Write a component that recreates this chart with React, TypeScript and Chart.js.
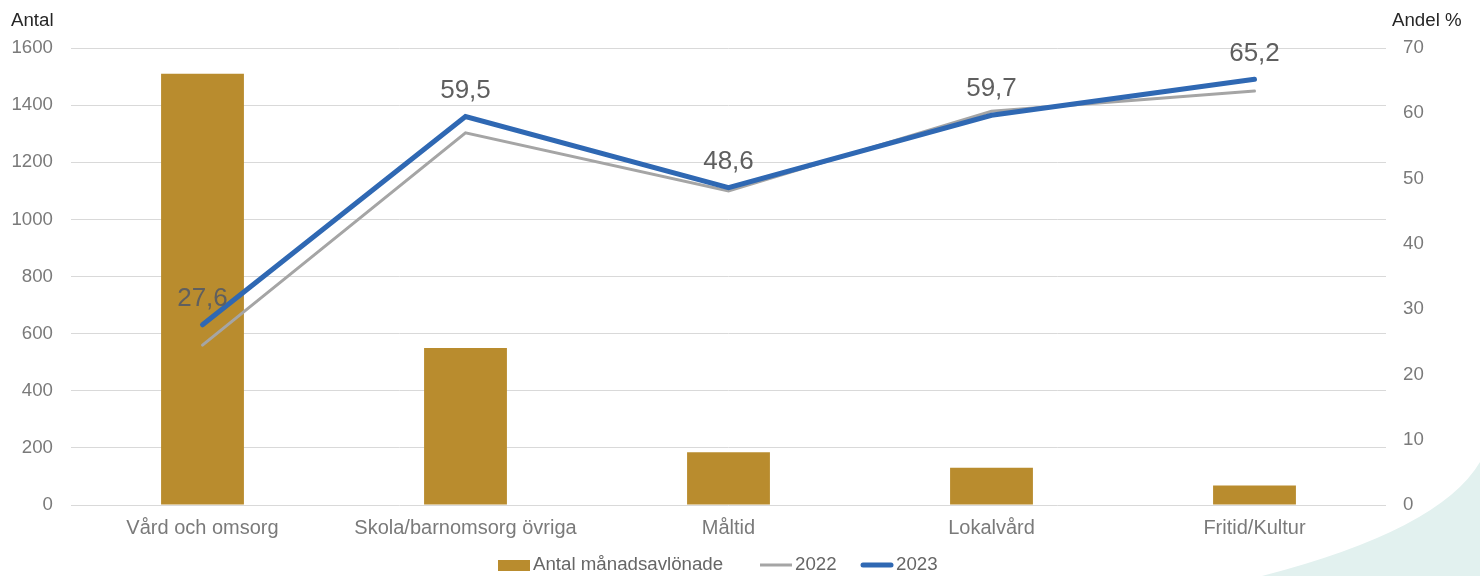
import React, { useEffect, useRef } from "react";
import { Chart, registerables } from "chart.js";

Chart.register(...registerables);

const categories = ["Vård och omsorg", "Skola/barnomsorg övriga", "Måltid", "Lokalvård", "Fritid/Kultur"];
const antal = [1510, 550, 185, 130, 68];
const andel2022 = [24.5, 57.0, 48.1, 60.3, 63.4];
const andel2023 = [27.6, 59.5, 48.6, 59.7, 65.2];
const leftTicks = [0, 200, 400, 600, 800, 1000, 1200, 1400, 1600];
const rightTicks = [0, 10, 20, 30, 40, 50, 60, 70];

const FONT = "'Liberation Sans', Arial, sans-serif";
const GOLD = "#B98C2E";
const GRAY = "#A5A5A5";
const BLUE = "#2F68B3";
const TICK = "#7A7A7A";
const LEGEND = "#666666";

const decorPlugin = {
  id: "decor",
  beforeDraw(chart: any) {
    const ctx = chart.ctx;
    ctx.save();
    ctx.fillStyle = "#E2F1EF";
    ctx.beginPath();
    ctx.moveTo(1262, 576);
    ctx.quadraticCurveTo(1440, 530, 1480, 462);
    ctx.lineTo(1480, 576);
    ctx.closePath();
    ctx.fill();
    ctx.restore();
  },
  afterDraw(chart: any) {
    const ctx = chart.ctx;
    ctx.save();
    // axis titles
    ctx.font = `18.7px ${FONT}`;
    ctx.fillStyle = "#262626";
    ctx.textBaseline = "middle";
    ctx.textAlign = "left";
    ctx.fillText("Antal", 11, 21);
    ctx.fillText("Andel %", 1392, 21);

    // data labels for 2023
    const meta = chart.getDatasetMeta(2);
    ctx.font = `26px ${FONT}`;
    ctx.fillStyle = "#5F5F5F";
    ctx.textAlign = "center";
    meta.data.forEach((pt: any, i: number) => {
      const txt = andel2023[i].toFixed(1).replace(".", ",");
      ctx.fillText(txt, pt.x, pt.y - 26);
    });

    // legend
    const ly = 565;
    ctx.font = `18.7px ${FONT}`;
    ctx.textAlign = "left";
    ctx.fillStyle = GOLD;
    ctx.fillRect(498, ly - 5, 32, 11);
    ctx.fillStyle = LEGEND;
    ctx.fillText("Antal månadsavlönade", 533, ly);
    ctx.strokeStyle = GRAY;
    ctx.lineWidth = 3;
    ctx.beginPath();
    ctx.moveTo(760, ly);
    ctx.lineTo(792, ly);
    ctx.stroke();
    ctx.fillText("2022", 795, ly);
    ctx.strokeStyle = BLUE;
    ctx.lineWidth = 5;
    ctx.lineCap = "round";
    ctx.beginPath();
    ctx.moveTo(863, ly);
    ctx.lineTo(891, ly);
    ctx.stroke();
    ctx.fillText("2023", 896, ly);
    ctx.restore();
  },
};

export default function App() {
  const ref = useRef<HTMLCanvasElement>(null);
  useEffect(() => {
    if (!ref.current) return;
    const chart = new Chart(ref.current, {
      type: "bar",
      data: {
        labels: categories,
        datasets: [
          {
            type: "bar",
            label: "Antal månadsavlönade",
            data: antal,
            backgroundColor: GOLD,
            yAxisID: "y",
            order: 3,
            categoryPercentage: 1,
            barPercentage: 0.315,
          },
          {
            type: "line",
            label: "2022",
            data: andel2022,
            borderColor: GRAY,
            borderWidth: 3,
            pointRadius: 0,
            tension: 0,
            borderCapStyle: "round",
            yAxisID: "y1",
            order: 2,
          },
          {
            type: "line",
            label: "2023",
            data: andel2023,
            borderColor: BLUE,
            borderWidth: 5,
            pointRadius: 0,
            tension: 0,
            borderCapStyle: "round",
            yAxisID: "y1",
            order: 1,
          },
        ] as any,
      },
      options: {
        animation: false,
        responsive: false,
        layout: { padding: { top: 48, left: 0, right: 0, bottom: 0 } },
        plugins: { legend: { display: false }, tooltip: { enabled: false } },
        scales: {
          x: {
            grid: { display: false, drawTicks: false },
            border: { display: false },
            ticks: { color: TICK, font: { family: FONT, size: 20 }, padding: 11, maxRotation: 0 },
            afterFit: (s: any) => { s.height = 71; },
          },
          y: {
            position: "left",
            min: 0,
            max: 1600,
            afterBuildTicks: (s: any) => { s.ticks = leftTicks.map((v) => ({ value: v })); },
            ticks: { color: TICK, font: { family: FONT, size: 18.7 }, padding: 18, callback: (v: any) => String(v) },
            grid: { color: "#D9D9D9", lineWidth: 1, drawTicks: false },
            border: { display: false },
            afterFit: (s: any) => { s.width = 71; },
          },
          y1: {
            position: "right",
            min: 0,
            max: 70,
            afterBuildTicks: (s: any) => { s.ticks = rightTicks.map((v) => ({ value: v })); },
            ticks: { color: TICK, font: { family: FONT, size: 18.7 }, padding: 17, callback: (v: any) => String(v) },
            grid: { display: false, drawTicks: false },
            border: { display: false },
            afterFit: (s: any) => { s.width = 94; },
          },
        },
      },
      plugins: [decorPlugin],
    });
    return () => chart.destroy();
  }, []);
  return (
    <div style={{ position: "absolute", left: 0, top: 0, width: 1480, height: 576, background: "#fff" }}>
      <canvas ref={ref} width={1480} height={576} style={{ width: 1480, height: 576, display: "block" }} />
    </div>
  );
}
